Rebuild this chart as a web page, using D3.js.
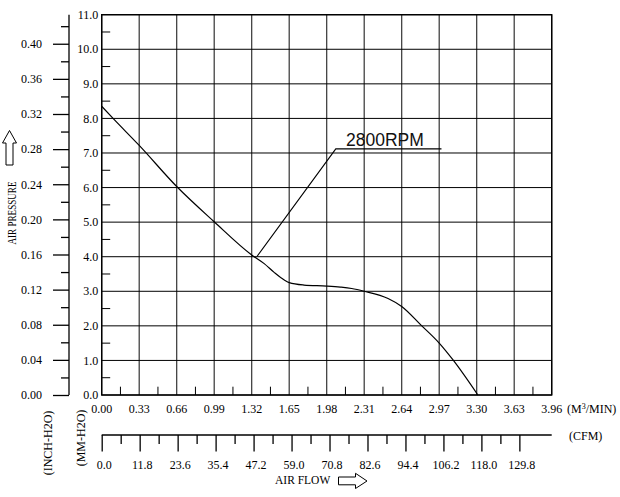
<!DOCTYPE html>
<html><head><meta charset="utf-8">
<script src="https://cdn.jsdelivr.net/npm/d3@7"></script>
<style>
body{margin:0;background:#fff}
svg{display:block}
text{font-family:"Liberation Serif","Times New Roman",serif;fill:#000}
text.sans{font-family:"Liberation Sans",Arial,sans-serif;fill:#111}
</style>
</head><body>
<svg id="c" width="620" height="497"></svg>
<script>
// ---- data ----
const flowM3     = [0, 0.10, 0.33, 0.66, 0.99, 1.32, 1.43, 1.52, 1.61, 1.65, 1.78, 1.98, 2.10, 2.20, 2.31, 2.52, 2.64, 2.81, 2.97, 3.09, 3.31];
const pressureMM = [8.35, 8.0, 7.22, 6.03, 5.01, 4.05, 3.80, 3.54, 3.32, 3.25, 3.18, 3.15, 3.12, 3.08, 3.00, 2.79, 2.56, 2.02, 1.50, 1.02, 0];
const seriesName = "2800RPM";
const leaderPts  = [[1.365, 4.0], [2.06, 7.12], [2.99, 7.12]];

const mmTicks   = [0,1,2,3,4,5,6,7,8,9,10,11];
const mmLabels  = ["0.0","1.0","2.0","3.0","4.0","5.0","6.0","7.0","8.0","9.0","10.0","11.0"];
const mmMinor   = [0.5,1.5,2.5,3.5,4.5,5.5,6.5,7.5,8.5,9.5,10.5];
const inchTicks = [0.00,0.04,0.08,0.12,0.16,0.20,0.24,0.28,0.32,0.36,0.40];
const inchLabels= ["0.00","0.04","0.08","0.12","0.16","0.20","0.24","0.28","0.32","0.36","0.40"];
const inchMinor = [0.02,0.06,0.10,0.14,0.18,0.22,0.26,0.30,0.34,0.38,0.42];
const flowTicks = [0,0.33,0.66,0.99,1.32,1.65,1.98,2.31,2.64,2.97,3.30,3.63,3.96];
const flowLabels= ["0.00","0.33","0.66","0.99","1.32","1.65","1.98","2.31","2.64","2.97","3.30","3.63","3.96"];
const flowMinor = [0.165,0.495,0.825,1.155,1.485,1.815,2.145,2.475,2.805,3.135,3.465,3.795];
const cfmTicks  = [0,11.8,23.6,35.4,47.2,59.0,70.8,82.6,94.4,106.2,118.0,129.8];
const cfmLabels = ["0.0","11.8","23.6","35.4","47.2","59.0","70.8","82.6","94.4","106.2","118.0","129.8"];
const cfmMinor  = [5.9,17.7,29.5,41.3,53.1,64.9,76.7,88.5,100.3,112.1,123.9];

// ---- scales ----
const svg = d3.select("#c");
const x    = d3.scaleLinear().domain([0, 3.96]).range([101.7, 551.7]);
const y    = d3.scaleLinear().domain([0, 11]).range([395, 14.7]);
const yIn  = d3.scaleLinear().domain([0, 11/25.4]).range([395, 14.7]);
const xCfm = d3.scaleLinear().domain([0, 3.96*35.3147]).range([101.7, 551.7]);

// grid
const g = svg.append("g").attr("stroke","#000").attr("stroke-width",1).attr("fill","none");
g.selectAll(".v").data(flowTicks).join("line")
  .attr("x1",d=>x(d)).attr("x2",d=>x(d)).attr("y1",y(0)).attr("y2",y(11)).attr("stroke","#333").attr("stroke-width",1.2);
g.selectAll(".h").data(mmTicks).join("line")
  .attr("y1",d=>y(d)).attr("y2",d=>y(d)).attr("x1",x(0)).attr("x2",x(3.96));
g.append("rect").attr("x",x(0)).attr("y",y(11)).attr("width",x(3.96)-x(0)).attr("height",y(0)-y(11)).attr("stroke-width",1.4);

// minor ticks inside plot
g.selectAll(".mmn").data(mmMinor).join("line")
  .attr("x1",x(0)).attr("x2",x(0)+8.5).attr("y1",d=>y(d)).attr("y2",d=>y(d));
g.selectAll(".fln").data(flowMinor).join("line")
  .attr("x1",d=>x(d)).attr("x2",d=>x(d)).attr("y1",y(0)).attr("y2",y(0)-8.3);

// mm labels
svg.append("g").selectAll("text").data(mmTicks).join("text")
  .attr("x",x(0)-3.5).attr("y",d=>y(d)).attr("dy","0.35em").attr("text-anchor","end")
  .attr("font-size",12).text((d,i)=>mmLabels[i]);

// flow labels
svg.append("g").selectAll("text").data(flowTicks).join("text")
  .attr("x",d=>x(d)).attr("y",413).attr("text-anchor","middle")
  .attr("font-size",12).text((d,i)=>flowLabels[i]);
const um = svg.append("text").attr("x",567).attr("y",413).attr("font-size",12);
um.append("tspan").text("(M");
um.append("tspan").attr("font-size",8).attr("dy",-4).text("3");
um.append("tspan").attr("dy",4).text("/MIN)");

// inch axis
const inchAxis = svg.append("g").attr("transform","translate(69,0)")
  .call(d3.axisLeft(yIn).tickValues(inchTicks).tickSize(16).tickPadding(11).tickFormat((d,i)=>inchLabels[i]));
inchAxis.select(".domain").attr("d",`M0,${yIn(0)}V${yIn(11/25.4)}`).attr("stroke","#000").attr("stroke-width",1.3);
inchAxis.selectAll("text").attr("font-size",12).attr("font-family","Liberation Serif");
inchAxis.selectAll("line").attr("stroke-width",1.3);
const inchMinorAxis = svg.append("g").attr("transform","translate(69,0)")
  .call(d3.axisLeft(yIn).tickValues(inchMinor).tickSize(8).tickFormat(""));
inchMinorAxis.select(".domain").remove();
inchMinorAxis.selectAll("line").attr("stroke-width",1.3);

// cfm axis
const cfmAxis = svg.append("g").attr("transform","translate(0,435)")
  .call(d3.axisBottom(xCfm).tickValues(cfmTicks).tickSize(16.5).tickPadding(0).tickFormat((d,i)=>cfmLabels[i]));
cfmAxis.select(".domain").attr("d",`M${xCfm.range()[0]},0H${xCfm.range()[1]}`).attr("stroke-width",1.3);
cfmAxis.selectAll("line").attr("stroke-width",1.3);
cfmAxis.selectAll("text").attr("font-size",12).attr("font-family","Liberation Serif")
  .attr("dy",null).attr("y",33.5).attr("dx",2);
const cfmMinorAxis = svg.append("g").attr("transform","translate(0,435)")
  .call(d3.axisBottom(xCfm).tickValues(cfmMinor).tickSize(9).tickFormat(""));
cfmMinorAxis.select(".domain").remove();
cfmMinorAxis.selectAll("line").attr("stroke-width",1.3);
svg.append("text").attr("x",569).attr("y",440).attr("font-size",12).text("(CFM)");

// rotated axis titles
svg.append("text").attr("transform","translate(52,443) rotate(-90)").attr("text-anchor","middle")
  .attr("font-size",12).text("(INCH-H2O)");
svg.append("text").attr("transform","translate(84.5,438) rotate(-90)").attr("text-anchor","middle")
  .attr("font-size",12).text("(MM-H2O)");
svg.append("text").attr("transform","translate(15.5,213) rotate(-90)").attr("text-anchor","middle")
  .attr("font-size",11.5).attr("textLength",63).attr("lengthAdjust","spacingAndGlyphs").text("AIR PRESSURE");
svg.append("text").attr("x",275).attr("y",484).attr("font-size",11.5).text("AIR FLOW");

// arrows
svg.append("path").attr("fill","#fff").attr("stroke","#000").attr("stroke-width",1)
  .attr("d","M9.5,130.5 L16.5,143 L13,143 L13,165 L6,165 L6,143 L2.5,143 Z");
svg.append("path").attr("fill","#fff").attr("stroke","#000").attr("stroke-width",1)
  .attr("d","M338.5,477 L355.5,477 L355.5,473.3 L367,481 L355.5,488.5 L355.5,484.8 L338.5,484.8 Z");

// curve
const line = d3.line().x(d=>x(d[0])).y(d=>y(d[1])).curve(d3.curveMonotoneX);
svg.append("path").datum(flowM3.map((f,i)=>[f,pressureMM[i]]))
  .attr("d",line).attr("fill","none").attr("stroke","#000").attr("stroke-width",1.2);

// leader + label
svg.append("path").datum(leaderPts).attr("d",d3.line().x(d=>x(d[0])).y(d=>y(d[1])))
  .attr("fill","none").attr("stroke","#000").attr("stroke-width",1.1);
svg.append("text").attr("class","sans").attr("x",x(2.15)).attr("y",y(7.12)-2.5)
  .attr("font-size",17.5).text(seriesName);
</script>
</body></html>
